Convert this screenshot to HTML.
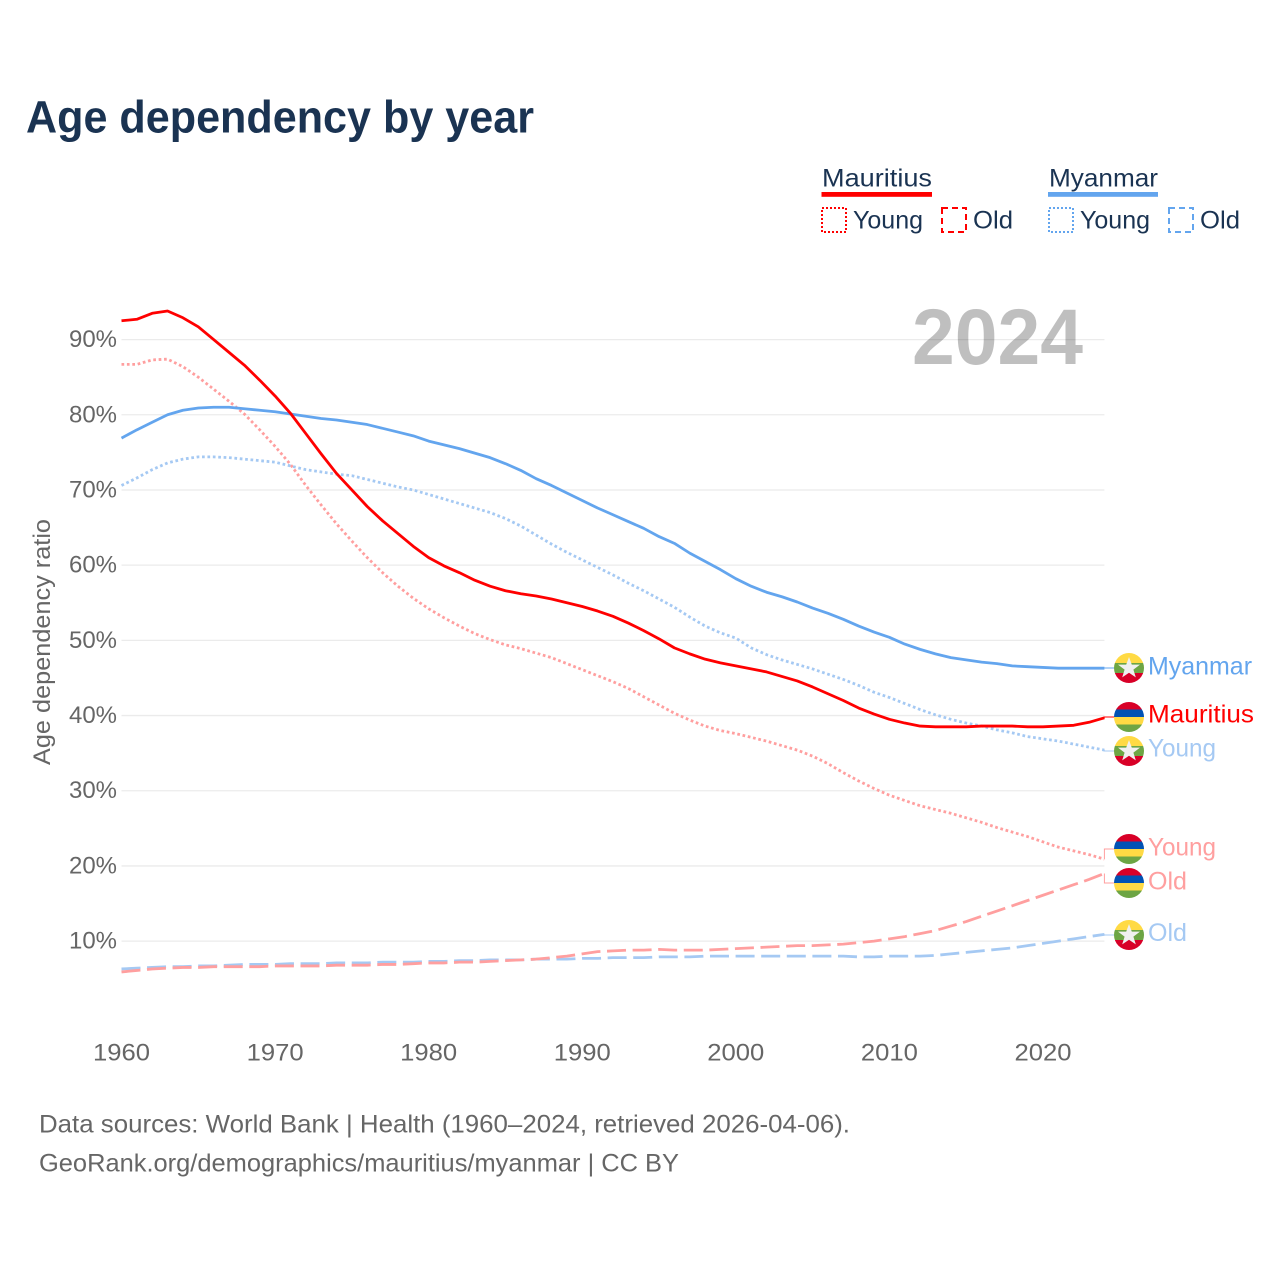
<!DOCTYPE html>
<html lang="en">
<head>
<meta charset="utf-8">
<title>Age dependency by year</title>
<style>
html,body{margin:0;padding:0;background:#fff;}
svg{display:block;font-family:"Liberation Sans",Arial,sans-serif;}
</style>
</head>
<body>
<svg id="chart" xmlns="http://www.w3.org/2000/svg" width="1280" height="1280" viewBox="0 0 1280 1280">
  <defs>
    <clipPath id="flag-clip"><circle cx="0" cy="0" r="15"/></clipPath>
    <g id="flag-myanmar" clip-path="url(#flag-clip)">
      <rect x="-15" y="-15" width="30" height="10" fill="#ffda44"/>
      <rect x="-15" y="-5" width="30" height="10" fill="#6da544"/>
      <rect x="-15" y="5" width="30" height="10" fill="#d80027"/>
      <polygon points="0,-11 2.8,-3.4 11,-3.4 4.4,1.6 6.8,9.4 0,4.7 -6.8,9.4 -4.4,1.6 -11,-3.4 -2.8,-3.4" fill="#f0f0f0"/>
    </g>
    <g id="flag-mauritius" clip-path="url(#flag-clip)">
      <rect x="-15" y="-15" width="30" height="7.5" fill="#d80027"/>
      <rect x="-15" y="-7.5" width="30" height="7.5" fill="#0052b4"/>
      <rect x="-15" y="0" width="30" height="7.5" fill="#ffda44"/>
      <rect x="-15" y="7.5" width="30" height="7.5" fill="#6da544"/>
    </g>
  </defs>

  <text x="26" y="132.5" font-size="45" font-weight="700" fill="#1a3352" textLength="508" lengthAdjust="spacingAndGlyphs">Age dependency by year</text>

  <g font-size="25" fill="#1a3352">
    <text x="822" y="186.5" textLength="110" lengthAdjust="spacingAndGlyphs">Mauritius</text>
    <rect x="821.5" y="192" width="110.5" height="4.8" fill="#ff0000"/>
    <rect x="822" y="208" width="24" height="24" fill="none" stroke="#ff0000" stroke-width="2" stroke-dasharray="2 2"/>
    <text x="853" y="228.5" textLength="70" lengthAdjust="spacingAndGlyphs">Young</text>
    <rect x="942" y="208" width="24" height="24" fill="none" stroke="#ff0000" stroke-width="2" stroke-dasharray="6 4"/>
    <text x="973" y="228.5" textLength="40" lengthAdjust="spacingAndGlyphs">Old</text>
    <text x="1049" y="186.5" textLength="109" lengthAdjust="spacingAndGlyphs">Myanmar</text>
    <rect x="1048" y="192" width="110" height="4.8" fill="#63a5ee"/>
    <rect x="1049" y="208" width="24" height="24" fill="none" stroke="#63a5ee" stroke-width="2" stroke-dasharray="2 2"/>
    <text x="1080" y="228.5" textLength="70" lengthAdjust="spacingAndGlyphs">Young</text>
    <rect x="1169" y="208" width="24" height="24" fill="none" stroke="#63a5ee" stroke-width="2" stroke-dasharray="6 4"/>
    <text x="1200" y="228.5" textLength="40" lengthAdjust="spacingAndGlyphs">Old</text>
  </g>

  <g id="grid"></g>
  <g id="y-ticks"></g>
  <g id="x-ticks"></g>

  <text x="912" y="364" font-size="79" font-weight="700" fill="#000000" fill-opacity="0.25" textLength="171" lengthAdjust="spacingAndGlyphs">2024</text>

  <text transform="translate(50,642) rotate(-90)" text-anchor="middle" font-size="24" fill="#666666" textLength="246" lengthAdjust="spacingAndGlyphs">Age dependency ratio</text>

  <g id="series"></g>

  <g font-size="25">
    <use href="#flag-myanmar" x="1129" y="668"/>
    <use href="#flag-mauritius" x="1129" y="717"/>
    <use href="#flag-myanmar" x="1129" y="751"/>
    <use href="#flag-mauritius" x="1129" y="849"/>
    <use href="#flag-mauritius" x="1129" y="883"/>
    <use href="#flag-myanmar" x="1129" y="935"/>
    <text x="1148" y="674.5" fill="#63a5ee" textLength="104" lengthAdjust="spacingAndGlyphs">Myanmar</text>
    <text x="1148" y="722.5" fill="#ff0000" textLength="106" lengthAdjust="spacingAndGlyphs">Mauritius</text>
    <text x="1148" y="756.5" fill="#a5c9f3" textLength="68" lengthAdjust="spacingAndGlyphs">Young</text>
    <text x="1148" y="855.5" fill="#ff9f9f" textLength="68" lengthAdjust="spacingAndGlyphs">Young</text>
    <text x="1148" y="889.5" fill="#ff9f9f" textLength="39" lengthAdjust="spacingAndGlyphs">Old</text>
    <text x="1148" y="941" fill="#a5c9f3" textLength="39" lengthAdjust="spacingAndGlyphs">Old</text>
  </g>

  <g font-size="25" fill="#666666">
    <text x="39" y="1132.5" textLength="811" lengthAdjust="spacingAndGlyphs">Data sources: World Bank | Health (1960–2024, retrieved 2026-04-06).</text>
    <text x="39" y="1171.5" textLength="640" lengthAdjust="spacingAndGlyphs">GeoRank.org/demographics/mauritius/myanmar | CC BY</text>
  </g>
</svg>
<script>
var firstYear = 1960;
var yTickValues = [10, 20, 30, 40, 50, 60, 70, 80, 90];
var xTickValues = [1960, 1970, 1980, 1990, 2000, 2010, 2020];

var mauritiusTotal = [92.5,92.7,93.5,93.8,92.9,91.7,90.0,88.3,86.6,84.6,
  82.5,80.2,77.5,74.8,72.2,70.0,67.8,65.9,64.2,62.5,
  61.0,59.9,59.0,58.0,57.2,56.6,56.2,55.9,55.5,55.0,
  54.5,53.9,53.2,52.3,51.3,50.2,49.0,48.2,47.5,47.0,
  46.6,46.2,45.8,45.2,44.6,43.8,42.9,42.0,41.0,40.2,
  39.5,39.0,38.6,38.5,38.5,38.5,38.6,38.6,38.6,38.5,
  38.5,38.6,38.7,39.1,39.7];
var mauritiusYoung = [86.7,86.7,87.3,87.4,86.4,85.0,83.4,81.8,80.1,78.0,
  75.8,73.4,70.6,68.0,65.5,63.2,61.0,59.0,57.2,55.6,
  54.2,53.0,51.9,50.9,50.1,49.4,48.9,48.3,47.7,46.9,
  46.1,45.3,44.5,43.6,42.5,41.4,40.3,39.4,38.6,38.0,
  37.6,37.1,36.6,36.0,35.4,34.6,33.6,32.4,31.3,30.3,
  29.4,28.7,28.0,27.5,27.0,26.4,25.8,25.1,24.5,23.9,
  23.2,22.5,22.0,21.5,20.9];
var mauritiusOld = [5.9,6.1,6.3,6.4,6.5,6.5,6.6,6.6,6.6,6.6,
  6.7,6.7,6.7,6.7,6.8,6.8,6.8,6.9,6.9,7.0,
  7.1,7.1,7.2,7.2,7.3,7.4,7.5,7.6,7.8,8.0,
  8.3,8.6,8.7,8.8,8.8,8.9,8.8,8.8,8.8,8.9,
  9.0,9.1,9.2,9.3,9.4,9.4,9.5,9.6,9.8,10.0,
  10.3,10.6,11.0,11.4,12.0,12.6,13.3,14.0,14.7,15.4,
  16.1,16.8,17.5,18.2,19.0];
var myanmarTotal = [76.9,78.0,79.0,80.0,80.6,80.9,81.0,81.0,80.8,80.6,
  80.4,80.1,79.8,79.5,79.3,79.0,78.7,78.2,77.7,77.2,
  76.5,76.0,75.5,74.9,74.3,73.5,72.6,71.5,70.6,69.6,
  68.6,67.6,66.7,65.8,64.9,63.8,62.9,61.6,60.5,59.4,
  58.2,57.2,56.4,55.8,55.1,54.3,53.6,52.8,51.9,51.1,
  50.4,49.5,48.8,48.2,47.7,47.4,47.1,46.9,46.6,46.5,
  46.4,46.3,46.3,46.3,46.3];
var myanmarYoung = [70.6,71.6,72.7,73.6,74.1,74.4,74.4,74.3,74.1,73.9,
  73.7,73.2,72.7,72.4,72.1,71.9,71.4,70.9,70.4,70.0,
  69.4,68.8,68.2,67.6,67.0,66.2,65.2,64.0,62.8,61.7,
  60.7,59.7,58.7,57.6,56.6,55.5,54.4,53.1,51.9,51.0,
  50.3,49.0,48.1,47.4,46.8,46.2,45.5,44.8,44.0,43.1,
  42.4,41.6,40.8,40.1,39.5,39.0,38.6,38.1,37.7,37.2,
  36.9,36.6,36.2,35.8,35.4];
var myanmarOld = [6.3,6.4,6.5,6.6,6.6,6.7,6.7,6.8,6.9,6.9,
  6.9,7.0,7.0,7.0,7.1,7.1,7.1,7.2,7.2,7.2,
  7.3,7.3,7.4,7.4,7.5,7.5,7.5,7.6,7.6,7.6,
  7.7,7.7,7.8,7.8,7.8,7.9,7.9,7.9,8.0,8.0,
  8.0,8.0,8.0,8.0,8.0,8.0,8.0,8.0,7.9,7.9,
  8.0,8.0,8.0,8.1,8.3,8.5,8.7,8.9,9.1,9.4,
  9.7,10.0,10.3,10.6,10.9];

function xScale(year) { return 121.5 + (year - 1960) * 15.358; }
function yScale(value) { return 1016.3 - value * 7.519; }
var ns = 'http://www.w3.org/2000/svg';
var gridLayer = document.getElementById('grid');
var yLayer = document.getElementById('y-ticks');
var xLayer = document.getElementById('x-ticks');
var seriesLayer = document.getElementById('series');

yTickValues.forEach(function (v) {
  var line = document.createElementNS(ns, 'line');
  
  
  line.setAttribute('x1', xScale(1960));
  line.setAttribute('x2', xScale(2024));
  line.setAttribute('y1', yScale(v));
  line.setAttribute('y2', yScale(v));
  line.setAttribute('stroke', '#ebebeb');
  line.setAttribute('stroke-width', '1.3');
  gridLayer.appendChild(line);

  var label = document.createElementNS(ns, 'text');
  
  
  label.setAttribute('x', 117);
  label.setAttribute('y', yScale(v) + 7.5);
  label.setAttribute('text-anchor', 'end');
  label.setAttribute('font-size', '24');
  label.setAttribute('fill', '#666666');
  label.setAttribute('textLength', '48');
  label.setAttribute('lengthAdjust', 'spacingAndGlyphs');
  label.textContent = v + '%';
  yLayer.appendChild(label);
});

xTickValues.forEach(function (year) {
  var label = document.createElementNS(ns, 'text');
  
  
  label.setAttribute('x', xScale(year));
  label.setAttribute('y', 1060.5);
  label.setAttribute('text-anchor', 'middle');
  label.setAttribute('font-size', '24');
  label.setAttribute('fill', '#666666');
  label.setAttribute('textLength', '57');
  label.setAttribute('lengthAdjust', 'spacingAndGlyphs');
  label.textContent = year;
  xLayer.appendChild(label);
});

function drawSeries(values, color, width, dash, targetY, name) {
  var d = values.map(function (v, i) {
    return (i ? 'L' : 'M') + xScale(firstYear + i).toFixed(2) + ' ' + yScale(v).toFixed(2);
  }).join(' ');
  var path = document.createElementNS(ns, 'path');
  
  
  path.setAttribute('d', d);
  path.setAttribute('fill', 'none');
  path.setAttribute('stroke', color);
  path.setAttribute('stroke-width', width);
  path.setAttribute('stroke-linejoin', 'round');
  if (dash) path.setAttribute('stroke-dasharray', dash);
  seriesLayer.appendChild(path);

  var endX = xScale(firstYear + values.length - 1);
  var endY = yScale(values[values.length - 1]);
  var link = document.createElementNS(ns, 'path');
  
  
  link.setAttribute('d', 'M' + endX.toFixed(2) + ' ' + endY.toFixed(2) + ' V' + targetY + ' H1115');
  link.setAttribute('fill', 'none');
  link.setAttribute('stroke', color);
  link.setAttribute('stroke-width', '1');
  seriesLayer.appendChild(link);
}

drawSeries(myanmarOld, '#a5c9f3', 2.8, '19 6.6', 935, 'line-myanmar-old');
drawSeries(mauritiusOld, '#ff9f9f', 2.8, '19 6.6', 883, 'line-mauritius-old');
drawSeries(mauritiusYoung, '#ff9f9f', 2.8, '2.7 2.7', 849, 'line-mauritius-young');
drawSeries(myanmarYoung, '#a5c9f3', 2.8, '2.7 2.7', 751, 'line-myanmar-young');
drawSeries(myanmarTotal, '#63a5ee', 2.8, '', 668, 'line-myanmar-total');
drawSeries(mauritiusTotal, '#ff0000', 2.8, '', 717, 'line-mauritius-total');
</script>
</body>
</html>
